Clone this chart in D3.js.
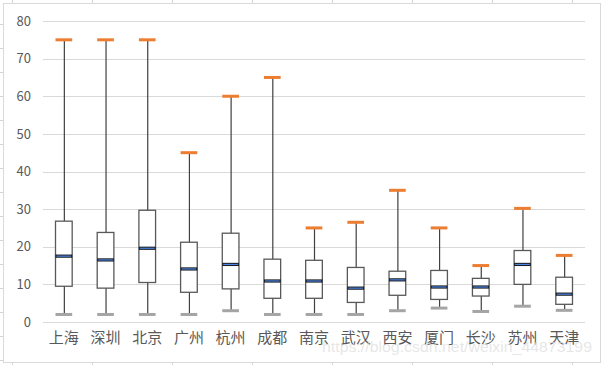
<!DOCTYPE html>
<html>
<head>
<meta charset="utf-8">
<script src="https://cdn.jsdelivr.net/npm/d3@7"></script>
<style>
  body { margin: 0; background: #fff; }
  svg { display: block; font-family: "Noto Sans CJK SC", "Noto Sans", sans-serif; }
</style>
</head>
<body>
<svg id="chart" width="603" height="365"></svg>
<script>
const cities = ['上海', '深圳', '北京', '广州', '杭州', '成都', '南京', '武汉', '西安', '厦门', '长沙', '苏州', '天津'];
const maxV = [75, 75, 75, 45, 60, 65, 25, 26.5, 35, 25, 15, 30.2, 17.7];
const q3V  = [26.8, 23.8, 29.7, 21.2, 23.6, 16.7, 16.4, 14.5, 13.5, 13.7, 11.6, 19, 11.9];
const medV = [17.5, 16.5, 19.6, 14.1, 15.3, 10.9, 10.9, 9, 11.2, 9.3, 9.3, 15.3, 7.4];
const q1V  = [9.5, 9, 10.5, 7.9, 8.8, 6.3, 6.3, 5.2, 7.1, 6, 6.9, 10, 4.7];
const minV = [2, 2, 2, 2, 3, 2, 2, 2, 3, 3.7, 2.8, 4.2, 3.1];
const yTicks = [0, 10, 20, 30, 40, 50, 60, 70, 80];

const svg = d3.select('#chart');
const W = 603, H = 365;

// spreadsheet cell lines around the chart object
const deco = svg.append('g').attr('stroke', '#d4d4d4').attr('stroke-width', 1);
d3.range(12.5, W, 80).forEach(x => {
  deco.append('line').attr('x1', x).attr('x2', x).attr('y1', 0).attr('y2', 3);
  deco.append('line').attr('x1', x).attr('x2', x).attr('y1', 363).attr('y2', H);
});
d3.range(24.5, H, 24).forEach(y => {
  deco.append('line').attr('x1', 0).attr('x2', 3).attr('y1', y).attr('y2', y);
});
svg.append('rect').attr('x', 3.5).attr('y', 3.5).attr('width', 597).attr('height', 359)
  .attr('fill', '#fff').attr('stroke', '#d9d9d9');

const x = d3.scaleBand().domain(cities).range([43, 585]);
const y = d3.scaleLinear().domain([0, 80]).range([322, 21]);
const bw = x.bandwidth() * 0.4;

// gridlines
svg.append('g').selectAll('line').data(yTicks).join('line')
  .attr('x1', 43).attr('x2', 585)
  .attr('y1', d => Math.round(y(d)) + 0.5).attr('y2', d => Math.round(y(d)) + 0.5)
  .attr('stroke', '#d9d9d9');

// y axis labels
const yAxis = svg.append('g').attr('transform', 'translate(31,0)')
  .call(d3.axisLeft(y).tickValues(yTicks).tickSize(0).tickPadding(0));
yAxis.select('.domain').remove();
yAxis.selectAll('text').attr('font-size', 13).attr('fill', '#595959')
  .attr('font-family', '"Noto Sans CJK SC", sans-serif');

// x axis labels
const xAxis = svg.append('g').attr('transform', 'translate(0,332)')
  .call(d3.axisBottom(x).tickSize(0).tickPadding(0));
xAxis.select('.domain').remove();
xAxis.selectAll('text').attr('font-size', 15).attr('fill', '#595959')
  .attr('font-family', '"Noto Sans CJK SC", sans-serif');

const rows = cities.map((c, i) => ({ c, max: maxV[i], q3: q3V[i], med: medV[i], q1: q1V[i], min: minV[i] }));
const g = svg.append('g').selectAll('g').data(rows).join('g')
  .attr('transform', d => `translate(${x(d.c) + x.bandwidth() / 2},0)`);

g.append('line')
  .attr('x1', 0.5).attr('x2', 0.5)
  .attr('y1', d => y(d.min)).attr('y2', d => y(d.max))
  .attr('stroke', '#404040').attr('stroke-width', 1.2);

g.append('rect')
  .attr('x', -bw / 2).attr('width', bw)
  .attr('y', d => y(d.q3)).attr('height', d => y(d.q1) - y(d.q3))
  .attr('fill', '#fff').attr('stroke', '#595959').attr('stroke-width', 1.3);

g.append('line')
  .attr('x1', -bw / 2).attr('x2', bw / 2)
  .attr('y1', d => y(d.med)).attr('y2', d => y(d.med))
  .attr('stroke', '#1a1a1a').attr('stroke-width', 3.2);
g.append('line')
  .attr('x1', -bw / 2 + 1).attr('x2', bw / 2 - 1)
  .attr('y1', d => y(d.med)).attr('y2', d => y(d.med))
  .attr('stroke', '#4a86e8').attr('stroke-width', 1.2);

g.append('rect')
  .attr('x', -bw / 2).attr('width', bw)
  .attr('y', d => y(d.max) - 1.5).attr('height', 3)
  .attr('fill', '#ed7d31');

g.append('rect')
  .attr('x', -bw / 2).attr('width', bw)
  .attr('y', d => y(d.min) - 1.5).attr('height', 3)
  .attr('fill', '#a5a5a5');

// watermark
svg.append('text').attr('x', 322).attr('y', 352)
  .attr('font-family', 'Arial, "Liberation Sans", sans-serif').attr('font-size', 15)
  .attr('textLength', 270).attr('lengthAdjust', 'spacingAndGlyphs')
  .attr('fill', '#dcdcdc').attr('fill-opacity', 0.7)
  .text('https://blog.csdn.net/weixin_44873199');
</script>
</body>
</html>
